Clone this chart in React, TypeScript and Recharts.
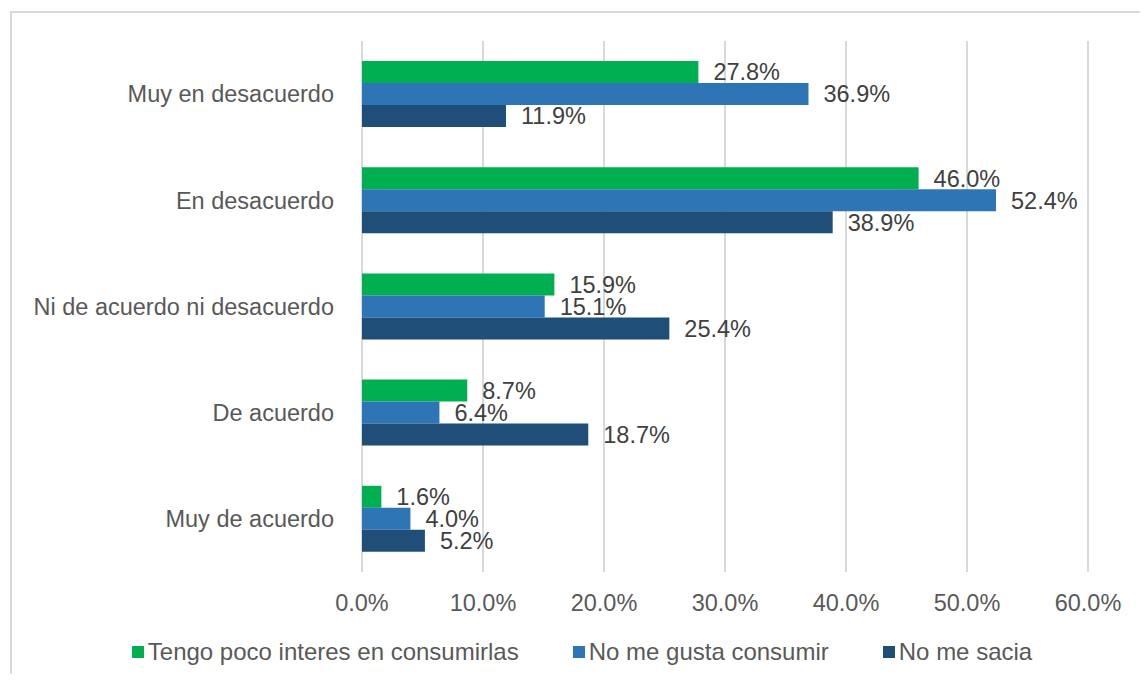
import React from 'react';
import { BarChart, Bar, XAxis, YAxis, CartesianGrid, LabelList } from 'recharts';

const categories = [
  'Muy en desacuerdo',
  'En desacuerdo',
  'Ni de acuerdo ni desacuerdo',
  'De acuerdo',
  'Muy de acuerdo',
];
const pocoInteres = [27.8, 46.0, 15.9, 8.7, 1.6];
const noGusta = [36.9, 52.4, 15.1, 6.4, 4.0];
const noSacia = [11.9, 38.9, 25.4, 18.7, 5.2];
const xTicks = [0, 10, 20, 30, 40, 50, 60];

const series = [
  { key: 'a', name: 'Tengo poco interes en consumirlas', color: '#00B050', values: pocoInteres },
  { key: 'b', name: 'No me gusta consumir', color: '#2E75B6', values: noGusta },
  { key: 'c', name: 'No me sacia', color: '#1F4E79', values: noSacia },
];

const data = categories.map((name, i) => ({
  name,
  a: pocoInteres[i],
  b: noGusta[i],
  c: noSacia[i],
}));

const FONT = '"Liberation Sans", Arial, sans-serif';
const FS = 23.5;
const fmt = (v: number) => `${Number(v).toFixed(1)}%`;

export default function App() {
  return (
    <div
      style={{
        position: 'relative',
        width: 1148,
        height: 682,
        margin: -8,
        overflow: 'hidden',
        background: '#fff',
        fontFamily: FONT,
      }}
    >
      <div
        style={{
          position: 'absolute',
          left: 10,
          top: 11,
          width: 1200,
          height: 720,
          border: '2px solid #d9d9d9',
          boxSizing: 'border-box',
        }}
      />
      <div style={{ position: 'absolute', left: 0, top: 0 }}>
        <BarChart
          width={1148}
          height={682}
          data={data}
          layout="vertical"
          margin={{ top: 41, right: 60, bottom: 70, left: 0 }}
          barSize={22}
          barGap={0}
        >
          <CartesianGrid horizontal={false} vertical stroke="#d9d9d9" strokeWidth={2} />
          <XAxis
            type="number"
            domain={[0, 60]}
            ticks={xTicks}
            tickFormatter={fmt}
            axisLine={false}
            tickLine={false}
            tickSize={0}
            tickMargin={22}
            height={40}
            interval={0}
            tick={{ fill: '#595959', fontSize: FS, fontFamily: FONT }}
          />
          <YAxis
            type="category"
            dataKey="name"
            width={362}
            axisLine={false}
            tickLine={false}
            tickSize={0}
            tickMargin={28}
            interval={0}
            tick={{ fill: '#595959', fontSize: FS, fontFamily: FONT }}
          />
          {series.map((s) => (
            <Bar key={s.key} dataKey={s.key} name={s.name} fill={s.color} isAnimationActive={false}>
              <LabelList
                dataKey={s.key}
                position="right"
                offset={15}
                formatter={(v: any) => fmt(v)}
                style={{ fill: '#404040', fontSize: FS, fontFamily: FONT }}
              />
            </Bar>
          ))}
        </BarChart>
      </div>
      <div
        style={{
          position: 'absolute',
          left: 0,
          top: 638,
          width: 1148,
          display: 'flex',
          justifyContent: 'center',
          paddingLeft: 16,
          boxSizing: 'border-box',
          gap: 54,
          fontSize: 24,
          color: '#595959',
          lineHeight: '28px',
        }}
      >
        {series.map((s) => (
          <div key={s.key} style={{ display: 'flex', alignItems: 'center' }}>
            <span style={{ display: 'inline-block', width: 12, height: 12, background: s.color, marginRight: 4 }} />
            <span>{s.name}</span>
          </div>
        ))}
      </div>
    </div>
  );
}
